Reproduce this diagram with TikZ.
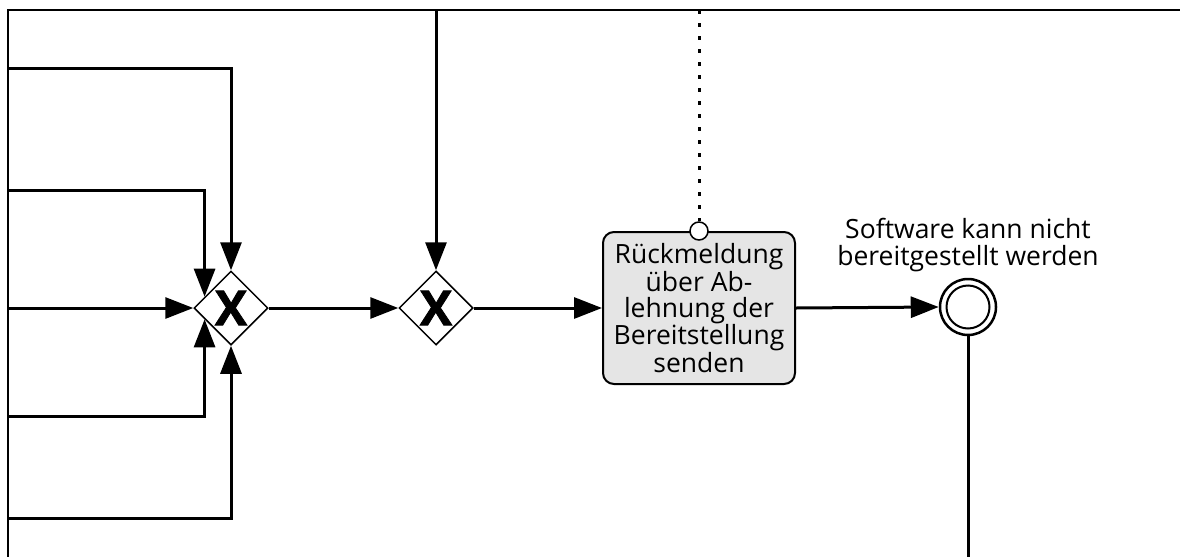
\documentclass[tikz,border=0pt]{standalone}
\usepackage{fontspec}
\setmainfont{Open Sans}
\newfontfamily\gwfont[BoldFeatures={FakeBold=1.6}]{Open Sans}
\usetikzlibrary{positioning, shapes.geometric, arrows.meta, calc}
\tikzset{
	flow/.style={line width=3pt, -{Triangle[length=28pt, width=21pt]}},
	plain/.style={line width=3pt},
	assoc/.style={line width=3pt, dash pattern=on 4pt off 9pt},
	gateway/.style={diamond, draw, line width=1.5pt, fill=white, minimum size=74pt, inner sep=0pt, font=\gwfont\bfseries\fontsize{48}{48}\selectfont},
	task/.style={rectangle, rounded corners=11pt, draw, line width=2pt, fill=gray!20, minimum width=192pt, minimum height=152pt, inner sep=2pt, align=center, font=\fontsize{26.5}{26}\selectfont},
	endevent/.style={circle, draw, line width=2.5pt, fill=white, minimum size=56pt, inner sep=0pt,
		path picture={\draw[line width=2pt] (path picture bounding box.center) circle[radius=21.5pt];}},
	attach/.style={circle, draw, line width=1.5pt, fill=white, minimum size=18pt, inner sep=0pt},
	baseline}

\begin{document}
\begin{tikzpicture}[x=1pt, y=-1pt]
		\useasboundingbox (0,0) rectangle (1180,557);
		%Frame
		\draw[line width=2pt] (1180,10) -- (8,10) -- (8,557);
		
		%Incoming
		\coordinate (in1) at (8,68);
		\coordinate (in2) at (8,190);
		\coordinate (in3) at (8,308);
		\coordinate (in4) at (8,416);
		\coordinate (in5) at (8,518);
		\coordinate (top2) at (436,10);
		\coordinate (top3) at (699,10);
		\coordinate (bot) at (968,557);
		
		%Nodes
		\node[gateway] (gw1) at (231,308) {X};
		\node[gateway] (gw2) at (436,308) {X};
		\node[task] (send) at (699,308) {R\"uckmeldung\\\"uber Ab-\\lehnung der\\Bereitstellung\\senden};
		\node[attach] (cond) at (send.north) {};
		\node[endevent] (end) at (968,307) {};
		\node[above=2pt of end, align=center, font=\fontsize{26.5}{27}\selectfont] (endlbl) {Software kann nicht\\bereitgestellt werden};
		
		\draw[flow] (in1) -| (gw1.north);
		\draw[flow] (in2) -| ($(gw1.west)!0.3!(gw1.north)$);
		\draw[flow] (in3) -- (gw1.west);
		\draw[flow] (in4) -| ($(gw1.west)!0.3!(gw1.south)$);
		\draw[flow] (in5) -| (gw1.south);
		\draw[flow] (gw1.east) -- (gw2.west);
		\draw[flow] (top2) -- (gw2.north);
		\draw[flow] (gw2.east) -- (send.west);
		\draw[assoc] (top3) -- (cond.north);
		\draw[flow] (send.east) -- (end.west);
		\draw[plain] (end.south) -- (bot);
	\end{tikzpicture}
\end{document}
